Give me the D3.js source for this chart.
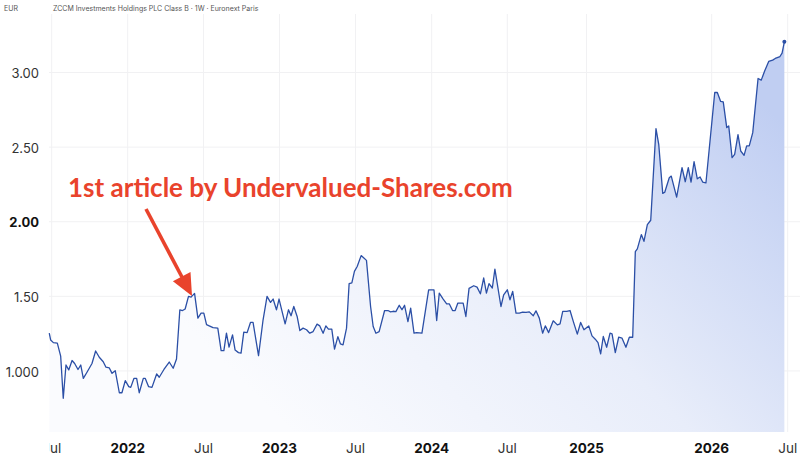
<!DOCTYPE html>
<html>
<head>
<meta charset="utf-8">
<script src="https://cdn.jsdelivr.net/npm/d3@7"></script>
<style>
  body { margin: 0; background: #fff; }
  svg { display: block; }
</style>
</head>
<body>
<svg id="chart" width="800" height="461"></svg>
<script>
// weekly closes, dates as decimal years
var weeks = [
  2021.484, 2021.493, 2021.511, 2021.537, 2021.559, 2021.576, 2021.594, 2021.612, 2021.634, 2021.651,
  2021.673, 2021.691, 2021.708, 2021.734, 2021.765, 2021.789, 2021.813, 2021.839, 2021.857, 2021.879,
  2021.897, 2021.918, 2021.945, 2021.962, 2021.984, 2022.007, 2022.020, 2022.041, 2022.059, 2022.076,
  2022.103, 2022.116, 2022.138, 2022.160, 2022.191, 2022.208, 2022.239, 2022.274, 2022.300, 2022.322,
  2022.344, 2022.362, 2022.379, 2022.401, 2022.418, 2022.441, 2022.463, 2022.484, 2022.502, 2022.520,
  2022.541, 2022.563, 2022.594, 2022.616, 2022.634, 2022.651, 2022.668, 2022.691, 2022.708, 2022.730,
  2022.747, 2022.765, 2022.787, 2022.809, 2022.826, 2022.862, 2022.892, 2022.918, 2022.941, 2022.958,
  2022.980, 2022.997, 2023.037, 2023.059, 2023.076, 2023.094, 2023.116, 2023.134, 2023.155, 2023.178,
  2023.199, 2023.221, 2023.247, 2023.265, 2023.287, 2023.305, 2023.322, 2023.344, 2023.362, 2023.384,
  2023.401, 2023.418, 2023.441, 2023.458, 2023.476, 2023.493, 2023.511, 2023.537, 2023.555, 2023.572,
  2023.599, 2023.616, 2023.634, 2023.655, 2023.691, 2023.713, 2023.730, 2023.747, 2023.765, 2023.787,
  2023.805, 2023.822, 2023.844, 2023.862, 2023.884, 2023.901, 2023.936, 2023.980, 2024.015, 2024.033,
  2024.050, 2024.076, 2024.099, 2024.116, 2024.138, 2024.155, 2024.173, 2024.208, 2024.226, 2024.247,
  2024.278, 2024.300, 2024.322, 2024.344, 2024.362, 2024.379, 2024.401, 2024.418, 2024.458, 2024.476,
  2024.500, 2024.517, 2024.534, 2024.555, 2024.576, 2024.597, 2024.618, 2024.639, 2024.664, 2024.681,
  2024.702, 2024.723, 2024.740, 2024.761, 2024.790, 2024.816, 2024.833, 2024.850, 2024.875, 2024.896,
  2024.917, 2024.942, 2024.963, 2024.984, 2025.018, 2025.044, 2025.070, 2025.092, 2025.113, 2025.134,
  2025.161, 2025.188, 2025.204, 2025.230, 2025.257, 2025.284, 2025.315, 2025.342, 2025.369, 2025.390,
  2025.406, 2025.438, 2025.459, 2025.486, 2025.513, 2025.555, 2025.577, 2025.609, 2025.625, 2025.661,
  2025.677, 2025.720, 2025.763, 2025.789, 2025.813, 2025.835, 2025.859, 2025.885, 2025.907, 2025.928,
  2025.954, 2026.020, 2026.037, 2026.059, 2026.076, 2026.099, 2026.112, 2026.134, 2026.151, 2026.173,
  2026.191, 2026.213, 2026.230, 2026.247, 2026.270, 2026.305, 2026.326, 2026.349, 2026.375, 2026.401,
  2026.418, 2026.449, 2026.463, 2026.478
];
var prices = [
  1.253, 1.208, 1.190, 1.186, 1.100, 0.817, 1.040, 1.007, 1.070, 1.050,
  1.010, 1.040, 0.950, 0.995, 1.050, 1.134, 1.092, 1.062, 1.025, 1.020,
  0.984, 1.002, 0.854, 0.854, 0.935, 0.895, 0.890, 0.950, 0.950, 0.854,
  0.950, 0.950, 0.895, 0.890, 0.980, 0.958, 1.010, 1.060, 1.018, 1.080,
  1.410, 1.405, 1.415, 1.500, 1.495, 1.520, 1.354, 1.388, 1.388, 1.310,
  1.300, 1.290, 1.287, 1.136, 1.136, 1.253, 1.160, 1.242, 1.140, 1.123,
  1.120, 1.260, 1.257, 1.325, 1.325, 1.103, 1.343, 1.500, 1.460, 1.482,
  1.410, 1.482, 1.316, 1.410, 1.370, 1.432, 1.365, 1.271, 1.287, 1.276,
  1.253, 1.264, 1.314, 1.302, 1.253, 1.302, 1.280, 1.280, 1.146, 1.230,
  1.181, 1.175, 1.287, 1.585, 1.590, 1.667, 1.700, 1.773, 1.757, 1.741,
  1.432, 1.298, 1.253, 1.264, 1.405, 1.405, 1.396, 1.400, 1.398, 1.440,
  1.410, 1.440, 1.331, 1.421, 1.253, 1.257, 1.253, 1.544, 1.544, 1.338,
  1.522, 1.482, 1.450, 1.450, 1.405, 1.405, 1.455, 1.455, 1.365, 1.553,
  1.571, 1.562, 1.517, 1.623, 1.522, 1.585, 1.556, 1.683, 1.432, 1.510,
  1.544, 1.477, 1.533, 1.388, 1.388, 1.394, 1.392, 1.396, 1.370, 1.403,
  1.354, 1.253, 1.302, 1.257, 1.336, 1.309, 1.316, 1.399, 1.399, 1.405,
  1.331, 1.247, 1.325, 1.276, 1.302, 1.235, 1.213, 1.190, 1.114, 1.231,
  1.159, 1.253, 1.249, 1.123, 1.226, 1.220, 1.159, 1.226, 1.226, 1.800,
  1.818, 1.914, 1.869, 1.980, 2.010, 2.624, 2.519, 2.190, 2.198, 2.295,
  2.306, 2.165, 2.362, 2.268, 2.362, 2.266, 2.402, 2.288, 2.300, 2.266,
  2.261, 2.866, 2.866, 2.806, 2.803, 2.631, 2.642, 2.429, 2.452, 2.584,
  2.474, 2.445, 2.508, 2.508, 2.597, 2.960, 2.949, 3.012, 3.074, 3.083,
  3.094, 3.107, 3.130, 3.206
];

var xTickValues = [2021.5, 2022, 2022.5, 2023, 2023.5, 2024, 2024.5, 2025, 2026, 2026.5];
var xTickLabels = ["Jul", "2022", "Jul", "2023", "Jul", "2024", "Jul", "2025", "2026", "Jul"];
var yTickValues = [1.0, 1.5, 2.0, 2.5, 3.0];
var yTickLabels = ["1.000", "1.50", "2.00", "2.50", "3.00"];

var svg = d3.select("#chart");
var plotLeft = 49, plotRight = 800, plotTop = 14, plotBottom = 432;
var axisFont = "Inter, 'Liberation Sans', sans-serif";

// the time axis is not evenly spaced (2025 -> 2026 is squeezed), so use a polylinear scale
var x = d3.scaleLinear()
  .domain(xTickValues)
  .range([51.7, 127.7, 203.5, 279.5, 355.5, 431.7, 507.3, 586.5, 711.7, 787.7]);
var y = d3.scaleLinear()
  .domain([0.591, 3.392])
  .range([plotBottom, plotTop]);

var data = weeks.map(function (w, i) { return { t: w, v: prices[i] }; });

var defs = svg.append("defs");
defs.append("clipPath").attr("id", "plot-clip")
  .append("rect")
  .attr("x", plotLeft).attr("y", 0)
  .attr("width", plotRight - plotLeft).attr("height", 461);

var grad = defs.append("linearGradient").attr("id", "area-grad")
  .attr("gradientUnits", "userSpaceOnUse")
  .attr("x1", 300).attr("y1", 440)
  .attr("x2", 700).attr("y2", 40);
grad.append("stop").attr("offset", "0%").attr("stop-color", "#fafbfe");
grad.append("stop").attr("offset", "50%").attr("stop-color", "#e8edfa");
grad.append("stop").attr("offset", "100%").attr("stop-color", "#c0cef2");

// grid
svg.append("g").selectAll("line")
  .data(xTickValues)
  .enter().append("line")
  .attr("x1", function (d) { return x(d); })
  .attr("x2", function (d) { return x(d); })
  .attr("y1", plotTop)
  .attr("y2", plotBottom)
  .style("stroke", "#f1f1f3")
  .style("stroke-width", 1);
svg.append("g").selectAll("line")
  .data(yTickValues)
  .enter().append("line")
  .attr("x1", plotLeft)
  .attr("x2", plotRight)
  .attr("y1", function (d) { return y(d); })
  .attr("y2", function (d) { return y(d); })
  .style("stroke", "#f1f1f3")
  .style("stroke-width", 1);

// area + line
var area = d3.area()
  .x(function (d) { return x(d.t); })
  .y0(plotBottom)
  .y1(function (d) { return y(d.v); });
var line = d3.line()
  .x(function (d) { return x(d.t); })
  .y(function (d) { return y(d.v); });

svg.append("path")
  .datum(data)
  .attr("d", area)
  .style("fill", "url(#area-grad)");
svg.append("path")
  .datum(data)
  .attr("d", line)
  .style("fill", "none")
  .style("stroke", "#2b4fa6")
  .style("stroke-width", 1.3)
  .style("stroke-linejoin", "round");

var last = data[data.length - 1];
svg.append("circle")
  .attr("cx", x(last.t))
  .attr("cy", y(last.v))
  .attr("r", 2)
  .style("fill", "#2b4fa6");

// y labels
svg.append("g").selectAll("text")
  .data(yTickValues)
  .enter().append("text")
  .attr("x", 39)
  .attr("y", function (d) { return y(d) + 1; })
  .attr("dy", "0.36em")
  .attr("text-anchor", "end")
  .style("font-family", axisFont)
  .style("font-size", "13px")
  .style("font-weight", function (d) { return d === 2 ? 700 : 400; })
  .style("fill", function (d) { return d === 2 ? "#111" : "#333"; })
  .text(function (d, i) { return yTickLabels[i]; });

// x labels
svg.append("g")
  .attr("clip-path", "url(#plot-clip)")
  .selectAll("text")
  .data(xTickValues)
  .enter().append("text")
  .attr("x", function (d) { return x(d); })
  .attr("y", 452.7)
  .attr("text-anchor", "middle")
  .style("font-family", axisFont)
  .style("font-size", "13.5px")
  .style("font-weight", function (d, i) { return xTickLabels[i] === "Jul" ? 400 : 700; })
  .style("fill", function (d, i) { return xTickLabels[i] === "Jul" ? "#333" : "#111"; })
  .text(function (d, i) { return xTickLabels[i]; });

// header
svg.append("text")
  .attr("x", 4).attr("y", 11)
  .style("font-family", axisFont)
  .style("font-size", "7px")
  .style("fill", "#555")
  .text("EUR");
svg.append("text")
  .attr("x", 53).attr("y", 11)
  .style("font-family", axisFont)
  .style("font-size", "7px")
  .style("fill", "#555")
  .text("ZCCM Investments Holdings PLC Class B · 1W · Euronext Paris");

// annotation
var red = "#e9432c";
svg.append("text")
  .attr("x", 68).attr("y", 197)
  .style("font-family", "Lato, sans-serif")
  .style("font-weight", 700)
  .style("font-size", "26px")
  .style("fill", red)
  .text("1st article by Undervalued-Shares.com");
svg.append("line")
  .attr("x1", 146).attr("y1", 209)
  .attr("x2", 183).attr("y2", 279)
  .style("stroke", red)
  .style("stroke-width", 3.6);
svg.append("path")
  .attr("d", "M192,296 L172.9,281.3 L190.5,271.9 Z")
  .style("fill", red);
</script>
</body>
</html>
